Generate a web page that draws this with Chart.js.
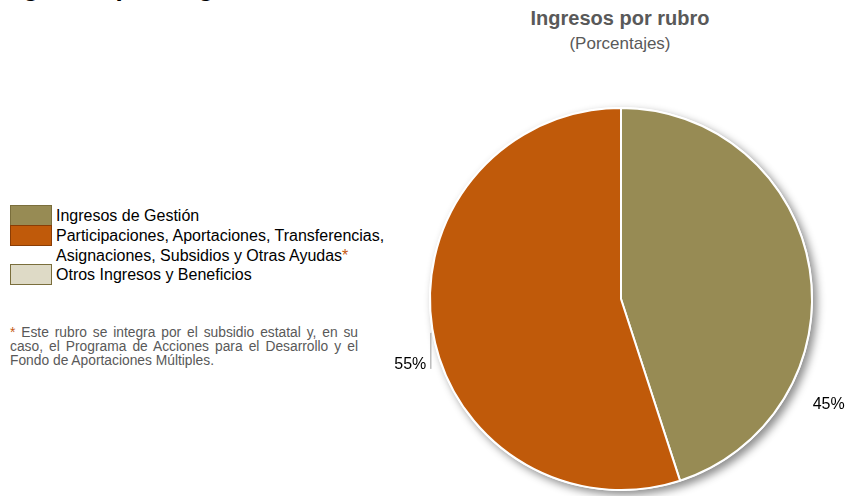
<!DOCTYPE html>
<html>
<head>
<meta charset="utf-8">
<script src="https://cdn.jsdelivr.net/npm/chart.js@4.4.1/dist/chart.umd.min.js"></script>
<style>
  html, body { margin: 0; padding: 0; background: #fff; }
  body { width: 846px; height: 496px; position: relative; overflow: hidden; font-family: "Liberation Sans", Arial, sans-serif; }
  #wrap { position: absolute; left: 0; top: 0; width: 846px; height: 496px; }
  #topTitle { position: absolute; left: 0; top: -28px; font-size: 26px; line-height: 30px; font-weight: bold; color: #000; white-space: nowrap; }
  #title { position: absolute; left: 470px; width: 300px; text-align: center; top: 7px; font-size: 20px; line-height: 22px; font-weight: bold; color: #595959; }
  #subtitle { position: absolute; left: 470px; width: 300px; text-align: center; top: 34px; font-size: 17px; line-height: 20px; color: #595959; }
  #legend { position: absolute; left: 10px; top: 206px; font-size: 16px; color: #000; }
  .item { position: relative; padding-left: 46px; line-height: 19.8px; }
  .box { position: absolute; left: 0; top: -1px; width: 40px; height: 19px; border: 1px solid #7a6e3c; }
  .star { color: #C55A11; }
  #note { position: absolute; left: 10px; top: 326px; width: 348px; font-size: 13.8px; line-height: 14px; color: #595959; }
  #note div { text-align: justify; text-align-last: justify; white-space: nowrap; }
  #note div.last { text-align-last: left; }
</style>
</head>
<body>
<div id="topTitle">Ingresos por origen de los recursos</div>
<div id="title">Ingresos por rubro</div>
<div id="subtitle">(Porcentajes)</div>
<div id="legend"></div>
<div id="note">
  <div><span class="star">*</span> Este rubro se integra por el subsidio estatal y, en su</div>
  <div>caso, el Programa de Acciones para el Desarrollo y el</div>
  <div class="last">Fondo de Aportaciones Múltiples.</div>
</div>
<div id="wrap"><canvas id="c" width="846" height="496"></canvas></div>
<script>
// ---- data ----
const categories = [
  'Ingresos de Gestión',
  'Participaciones, Aportaciones, Transferencias, Asignaciones, Subsidios y Otras Ayudas',
  'Otros Ingresos y Beneficios'
];
const legendLines = [
  ['Ingresos de Gestión'],
  ['Participaciones, Aportaciones, Transferencias,', 'Asignaciones, Subsidios y Otras Ayudas*'],
  ['Otros Ingresos y Beneficios']
];
const values = [45, 55, 0];
const colors = ['#978B54', '#C05A0A', '#DEDAC6'];

// ---- HTML legend ----
const lg = document.getElementById('legend');
legendLines.forEach((lines, i) => {
  const it = document.createElement('div');
  it.className = 'item';
  const b = document.createElement('div');
  b.className = 'box';
  b.style.background = colors[i];
  if (i === 1) b.style.borderColor = '#8a3d05';
  it.appendChild(b);
  lines.forEach(t => {
    const d = document.createElement('div');
    if (t.endsWith('*')) {
      d.innerHTML = t.slice(0, -1) + '<span class="star">*</span>';
    } else d.textContent = t;
    it.appendChild(d);
  });
  lg.appendChild(it);
});

// ---- plugins ----
const shadowPlugin = {
  id: 'shadowPlugin',
  beforeDatasetsDraw(chart) {
    const arc = chart.getDatasetMeta(0).data[0];
    if (!arc) return;
    const ctx = chart.ctx;
    ctx.save();
    ctx.shadowColor = 'rgba(0,0,0,0.45)';
    ctx.shadowBlur = 9;
    ctx.shadowOffsetX = 4;
    ctx.shadowOffsetY = 4;
    ctx.fillStyle = '#ffffff';
    ctx.beginPath();
    ctx.arc(arc.x, arc.y, arc.outerRadius + 1, 0, Math.PI * 2);
    ctx.fill();
    ctx.restore();
  }
};

// label placement (angle offset from slice middle in degrees, radius factor, leader)
const labelCfg = [
  { dAngle: 35.5, rf: 1.215, leader: false },
  { dAngle: 0, rf: 1.0, leader: true }
];

const labelPlugin = {
  id: 'labelPlugin',
  afterDatasetsDraw(chart) {
    const ctx = chart.ctx;
    const meta = chart.getDatasetMeta(0);
    ctx.save();
    ctx.font = '16px "Liberation Sans", Arial, sans-serif';
    ctx.fillStyle = '#000';
    ctx.textBaseline = 'middle';
    meta.data.forEach((arc, i) => {
      if (!values[i]) return;
      const cfg = labelCfg[i];
      const mid = (arc.startAngle + arc.endAngle) / 2 + cfg.dAngle * Math.PI / 180;
      const r = arc.outerRadius;
      const txt = values[i] + '%';
      if (!cfg.leader) {
        const x = arc.x + Math.cos(mid) * r * cfg.rf;
        const y = arc.y + Math.sin(mid) * r * cfg.rf;
        ctx.textAlign = 'center';
        ctx.fillText(txt, x, y + 2);
      } else {
        const x0 = arc.x + Math.cos(mid) * r;
        const y0 = arc.y + Math.sin(mid) * r;
        const lx = x0 - 2;
        ctx.strokeStyle = '#9a9a9a';
        ctx.lineWidth = 1;
        ctx.beginPath();
        ctx.moveTo(lx + 0.5, y0 + 4);
        ctx.lineTo(lx + 0.5, y0 + 40);
        ctx.stroke();
        ctx.textAlign = 'right';
        ctx.fillText(txt, lx - 4, y0 + 36);
      }
    });
    ctx.restore();
  }
};

new Chart(document.getElementById('c'), {
  type: 'pie',
  data: {
    labels: categories,
    datasets: [{
      data: values,
      backgroundColor: colors,
      borderColor: '#ffffff',
      borderWidth: 2,
      hoverOffset: 0
    }]
  },
  options: {
    responsive: false,
    animation: false,
    layout: { padding: { left: 429, top: 107, right: 33, bottom: 5 } },
    plugins: {
      legend: { display: false },
      tooltip: { enabled: false },
      title: { display: false }
    }
  },
  plugins: [shadowPlugin, labelPlugin]
});
</script>
</body>
</html>
